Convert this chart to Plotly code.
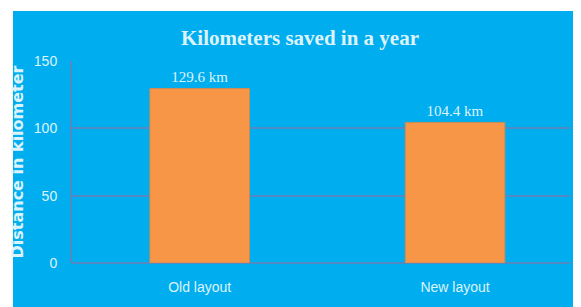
import plotly.graph_objects as go

categories = ["Old layout", "New layout"]
values = [129.6, 104.4]
labels = ["129.6 km", "104.4 km"]
y_ticks = [0, 50, 100, 150]

BLUE = "#00AEEF"
ORANGE = "#F79646"
GRID = "#5189C2"
TXT = "#DDF3FB"

fig = go.Figure(go.Bar(
    x=categories, y=values, width=0.39,
    marker=dict(color=ORANGE, line=dict(color="#C98A5A", width=1)),
    text=labels, textposition="outside", cliponaxis=False,
    textfont=dict(family="Liberation Serif", size=15, color=TXT),
))

# page body has an 8px margin, so the figure is laid out in page coords minus 8
W, H = 573, 299
L, R, T, B = 64, 562, 53, 255

fig.update_layout(
    width=W, height=H,
    margin=dict(l=L, r=W - R, t=T, b=H - B, autoexpand=False),
    paper_bgcolor="white", plot_bgcolor="rgba(0,0,0,0)",
    showlegend=False,
    title=dict(text="<b>Kilometers saved in a year</b>", x=292 / W, xanchor="center",
               y=1 - 30 / H, yanchor="middle",
               font=dict(family="Liberation Serif", size=21, color=TXT)),
    xaxis=dict(range=[-0.5, 1.45], showgrid=False, zeroline=False, showline=False,
               ticks="", tickfont=dict(family="Liberation Sans Narrow, Liberation Sans", size=14, color=TXT),
               ticklabelstandoff=14),
    yaxis=dict(range=[0, 150], tickvals=y_ticks, showgrid=True, gridcolor=GRID, gridwidth=2,
               zeroline=True, zerolinecolor=GRID, zerolinewidth=2,
               showline=True, linecolor=GRID, linewidth=2,
               tickfont=dict(family="Liberation Sans Narrow, Liberation Sans", size=14, color=TXT),
               ticks="", ticklabelstandoff=10,
               title=dict(text="<b>Distance in kilometer</b>", standoff=8,
                          font=dict(family="DejaVu Sans", size=16, color=TXT))),
    shapes=[dict(type="rect", xref="paper", yref="paper", layer="below",
                 x0=(5 - L) / (R - L), x1=(W + 5 - L) / (R - L),
                 y0=(B - (H + 5)) / (B - T), y1=(B - 3) / (B - T),
                 fillcolor=BLUE, line=dict(width=0))],
)

fig.write_html("out.html")
